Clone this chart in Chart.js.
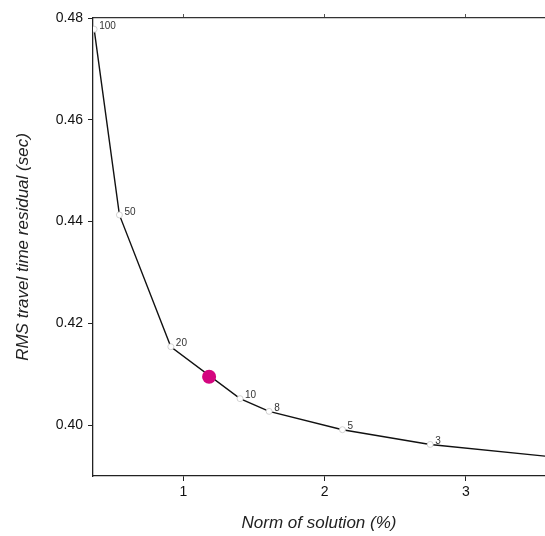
<!DOCTYPE html>
<html>
<head>
<meta charset="utf-8">
<script src="https://cdn.jsdelivr.net/npm/chart.js@4"></script>
<style>
        body { margin: 0; background: #fff; }
        canvas { display: block; }
</style>
</head>
<body>
<canvas id="chart_lcurve" width="545" height="536"></canvas>
<script>
// L-curve: norm of solution vs RMS residual, labelled by damping value
var norm_values = [0.368, 0.547, 0.911, 1.401, 1.607, 2.126, 2.747, 3.56];
var rms_values = [0.4778, 0.4413, 0.4154, 0.4052, 0.4027, 0.3991, 0.3962, 0.3939];
var damping_labels = ["100", "50", "20", "10", "8", "5", "3", ""];

// chosen damping (magenta dot)
var chosen_norm = [1.182];
var chosen_rms = [0.4095];

var x_ticks = [1, 2, 3];
var y_ticks = [0.40, 0.42, 0.44, 0.46, 0.48];

var font_family = "'Liberation Sans', Arial, sans-serif";

function set_ticks(list) {
        return function(scale) {
                scale.ticks = list.map(function(v) { return { value: v }; });
        };
}

function fix_size(size) {
        return function(scale) {
                if (scale.isHorizontal()) {
                        scale.height = size;
                } else {
                        scale.width = size;
                }
                // no extra room for end labels, the plot runs to the edge
                scale.paddingLeft = 0;
                scale.paddingRight = 0;
                scale.paddingTop = 0;
                scale.paddingBottom = 0;
        };
}

var point_labels = {
        id: "point_labels",
        afterDatasetsDraw: function(chart) {
                var ctx = chart.ctx;
                var meta = chart.getDatasetMeta(1);
                ctx.save();
                ctx.font = "10px " + font_family;
                ctx.fillStyle = "#333";
                ctx.textAlign = "left";
                ctx.textBaseline = "middle";
                for (let i = 0; i < meta.data.length; i++) {
                        const el = meta.data[i];
                        if (damping_labels[i] !== "") {
                                ctx.fillText(damping_labels[i], el.x + 5, el.y - 3);
                        }
                }
                ctx.restore();
        }
};

var line_points = norm_values.map(function(v, i) { return { x: v, y: rms_values[i] }; });
var chosen_points = chosen_norm.map(function(v, i) { return { x: v, y: chosen_rms[i] }; });

new Chart("chart_lcurve", {
        type: "scatter",
        data: {
                datasets: [{
                        data: chosen_points,
                        pointRadius: 7,
                        pointBackgroundColor: "#d4067f",
                        pointBorderWidth: 0,
                        order: 0
                }, {
                        data: line_points,
                        showLine: true,
                        borderColor: "#111",
                        borderWidth: 1.4,
                        pointRadius: damping_labels.map(function(l) { return l === "" ? 0 : 3; }),
                        pointBorderColor: "#c8c8c8",
                        pointBackgroundColor: "#fff",
                        pointBorderWidth: 0.8,
                        order: 1
                }]
        },
        options: {
                responsive: false,
                animation: false,
                layout: { autoPadding: false, padding: 0 },
                plugins: {
                        legend: { display: false },
                        tooltip: { enabled: false }
                },
                scales: {
                        x: {
                                type: "linear",
                                position: "bottom",
                                min: 0.36,
                                max: 3.56,
                                afterBuildTicks: set_ticks(x_ticks),
                                afterFit: fix_size(60),
                                grid: { drawOnChartArea: false, drawTicks: true, tickLength: 5, color: "#222" },
                                border: { display: true, color: "#222", width: 1.3 },
                                ticks: {
                                        padding: 3,
                                        color: "#111",
                                        font: { family: font_family, size: 14 },
                                        maxRotation: 0,
                                        callback: function(v) { return String(v); }
                                },
                                title: {
                                        display: true,
                                        text: "Norm of solution (%)",
                                        color: "#222",
                                        font: { family: font_family, size: 17, style: "italic" },
                                        padding: { top: 0, bottom: 3 }
                                }
                        },
                        x2: {
                                type: "linear",
                                position: "top",
                                min: 0.36,
                                max: 3.56,
                                afterBuildTicks: set_ticks(x_ticks),
                                afterFit: fix_size(18),
                                grid: { drawOnChartArea: false, drawTicks: true, tickLength: 4, color: "#555" },
                                border: { display: true, color: "#333", width: 1.3 },
                                ticks: { display: false }
                        },
                        y: {
                                type: "linear",
                                position: "left",
                                min: 0.39,
                                max: 0.48,
                                afterBuildTicks: set_ticks(y_ticks),
                                afterFit: fix_size(93),
                                grid: { drawOnChartArea: false, drawTicks: true, tickLength: 5, color: "#222" },
                                border: { display: true, color: "#222", width: 1.3 },
                                ticks: {
                                        padding: 5,
                                        color: "#111",
                                        font: { family: font_family, size: 14 },
                                        callback: function(v) { return v.toFixed(2); }
                                },
                                title: {
                                        display: true,
                                        text: "RMS travel time residual (sec)",
                                        color: "#222",
                                        font: { family: font_family, size: 17, style: "italic" },
                                        padding: { top: 13, bottom: 0 }
                                }
                        }
                }
        },
        plugins: [point_labels]
});
</script>
</body>
</html>
